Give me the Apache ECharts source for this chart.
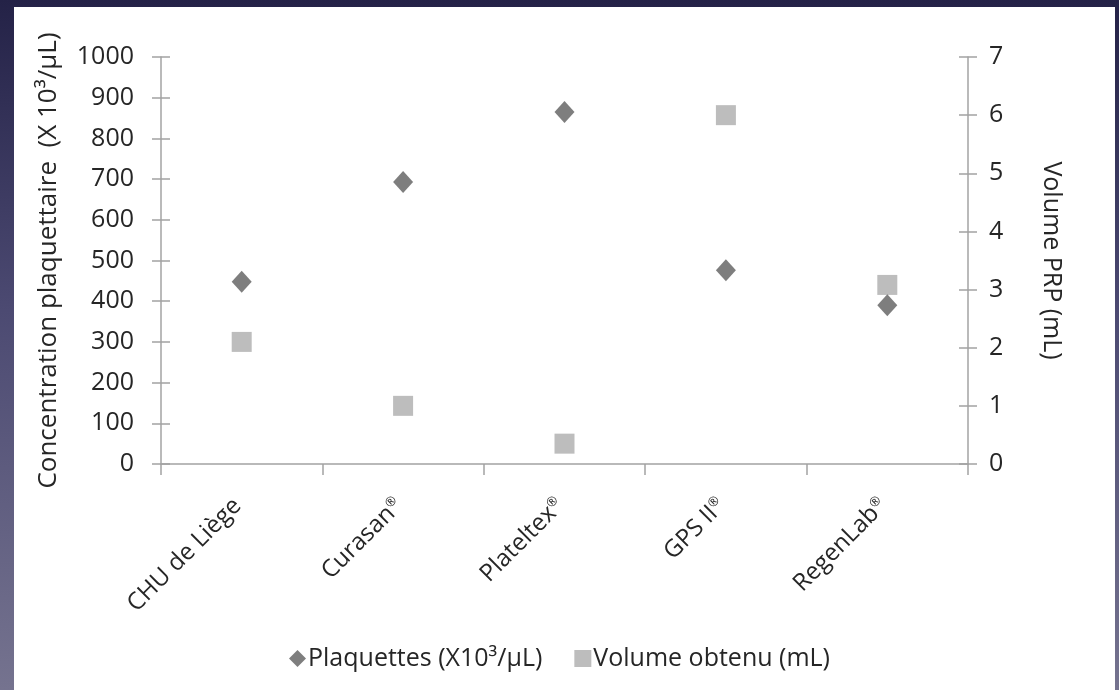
<!DOCTYPE html>
<html>
<head>
<meta charset="utf-8">
<script src="https://cdn.jsdelivr.net/npm/echarts@6/dist/echarts.min.js"></script>
<style>
  html, body { margin: 0; padding: 0; }
  body {
    width: 1119px; height: 690px; overflow: hidden; position: relative;
    background: linear-gradient(to bottom, #242247 0%, #4c4a72 45%, #75738f 100%);
  }
  #panel { position: absolute; left: 14px; top: 7px; width: 1101px; height: 683px; background: #fff; }
  #chart { position: absolute; left: 0; top: 0; width: 1119px; height: 690px; }
</style>
</head>
<body>
<div id="panel"></div>
<div id="chart"></div>
<script>
// categories & values
const categories = ['CHU de Liège', 'Curasan®', 'Plateltex®', 'GPS II®', 'RegenLab®'];
const plaquettes = [448, 693, 865, 476, 390];   // X10³/µL, left axis
const volume = [2.1, 1.0, 0.35, 6.0, 3.08];     // mL, right axis
const leftTicks = { min: 0, max: 1000, interval: 100 };
const rightTicks = { min: 0, max: 7, interval: 1 };

const FONT = 'Open Sans';
const AXIS_COLOR = '#a3a3a3';
const TEXT_COLOR = '#262626';

const chart = echarts.init(document.getElementById('chart'));

// base axis look
const axisLine = { show: true, lineStyle: { color: AXIS_COLOR, width: 1.5 } };
const tickStyle = { color: AXIS_COLOR, width: 1.5 };

chart.setOption({
  backgroundColor: 'transparent',
  animation: false,
  textStyle: { fontFamily: FONT },
  grid: { left: 161, right: 151, top: 57, bottom: 226, containLabel: false },
  legend: {
    bottom: 14,
    left: 'center',
    itemGap: 32,
    itemWidth: 17,
    itemHeight: 17,
    textStyle: { fontFamily: FONT, fontSize: 25, color: TEXT_COLOR, padding: [0, 0, 0, -3] },
    data: [
      { name: 'Plaquettes (X10³/µL)', icon: 'diamond' },
      { name: 'Volume obtenu (mL)', icon: 'rect' }
    ]
  },
  xAxis: {
    type: 'category',
    data: categories,
    boundaryGap: true,
    axisLine: axisLine,
    axisTick: { show: true, length: 11, lineStyle: tickStyle },
    axisLabel: {
      rotate: 45, margin: 34, interval: 0, padding: [0, 6, 0, 0],
      fontFamily: FONT, fontSize: 24, color: TEXT_COLOR,
      // small raised ® like the original
      formatter: v => v.replace('®', '{sup|®}'),
      rich: {
        sup: { fontFamily: FONT, fontSize: 13, color: TEXT_COLOR, verticalAlign: 'top', lineHeight: 14 }
      }
    },
    splitLine: { show: false }
  },
  yAxis: [
    {
      type: 'value', position: 'left',
      min: leftTicks.min, max: leftTicks.max, interval: leftTicks.interval,
      name: 'Concentration plaquettaire  (X 10³/µL)',
      nameLocation: 'middle', nameGap: 99, nameRotate: 90,
      nameTextStyle: { fontFamily: FONT, fontSize: 26, color: TEXT_COLOR },
      axisLine: axisLine,
      axisTick: { show: true, length: 9, lineStyle: tickStyle },
      axisLabel: { margin: 27, fontFamily: FONT, fontSize: 25, color: TEXT_COLOR,
        formatter: v => String(v) },
      splitLine: { show: false }
    },
    {
      type: 'value', position: 'right',
      min: rightTicks.min, max: rightTicks.max, interval: rightTicks.interval,
      name: 'Volume PRP (mL)',
      nameLocation: 'middle', nameGap: 71, nameRotate: -90,
      nameTextStyle: { fontFamily: FONT, fontSize: 25, color: TEXT_COLOR },
      axisLine: axisLine,
      axisTick: { show: true, length: 9, lineStyle: tickStyle },
      axisLabel: { margin: 21, fontFamily: FONT, fontSize: 25, color: TEXT_COLOR },
      splitLine: { show: false }
    },
    // inner halves of the crossing ticks
    {
      type: 'value', position: 'left',
      min: leftTicks.min, max: leftTicks.max, interval: leftTicks.interval,
      axisLine: { show: false },
      axisTick: { show: true, inside: true, length: 9, lineStyle: tickStyle },
      axisLabel: { show: false }, splitLine: { show: false }
    },
    {
      type: 'value', position: 'right',
      min: rightTicks.min, max: rightTicks.max, interval: rightTicks.interval,
      axisLine: { show: false },
      axisTick: { show: true, inside: true, length: 9, lineStyle: tickStyle },
      axisLabel: { show: false }, splitLine: { show: false }
    }
  ],
  series: [
    {
      name: 'Plaquettes (X10³/µL)',
      type: 'scatter',
      yAxisIndex: 0,
      symbol: 'diamond',
      symbolSize: [20, 22],
      itemStyle: { color: '#5e5e5e' },
      data: plaquettes,
      z: 3
    },
    {
      name: 'Volume obtenu (mL)',
      type: 'scatter',
      yAxisIndex: 1,
      symbol: 'rect',
      symbolSize: 20,
      itemStyle: { color: '#acacac' },
      data: volume,
      z: 2
    }
  ]
});
</script>
</body>
</html>
